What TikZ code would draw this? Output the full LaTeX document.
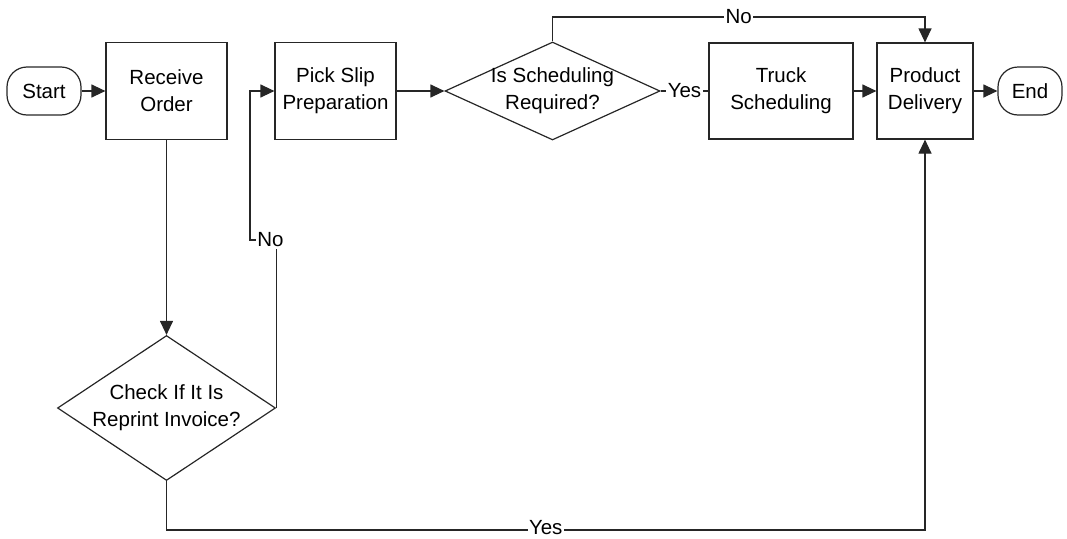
\documentclass[tikz,border=0pt]{standalone}
\usepackage{fontspec}
\setmainfont{Liberation Sans}
\usetikzlibrary{shapes,arrows.meta,calc}

\begin{document}
\begin{tikzpicture}[x=1pt, y=-1pt]

        % Looks shared by the boxes, decisions and lines
        \tikzset{
            every node/.style={font=\fontsize{20.5}{27}\selectfont, align=center, text=black},
            term/.style={draw=black!85, line width=1.2pt, rounded corners=20pt,
                minimum width=74pt, minimum height=48pt, inner sep=0pt},
            proc/.style={draw=black!85, line width=1.2pt, minimum height=97pt, inner sep=0pt},
            dec/.style={diamond, draw=black!85, line width=1.2pt, inner sep=0pt},
            flow/.style={draw=black!85, line width=1.2pt, -{Triangle[length=14pt,width=13pt]}},
            link/.style={draw=black!85, line width=1.2pt},
            lbl/.style={fill=white, inner sep=1.5pt},
        }

        % Fixes the page to the size of the reference
        \useasboundingbox (0,0) rectangle (1067,538);

        % Top row of the chart
        \node[term] (start) at (44,91) {Start};
        \node[proc, minimum width=121pt] (receive) at (166.5,91) {Receive\\Order};
        \node[proc, minimum width=121pt] (pick) at (335.5,91) {Pick Slip\\Preparation};
        \node[dec, minimum width=215pt, minimum height=98pt] (sched) at (552.5,91) {};
        \node (schedtxt) at (sched.center) {Is Scheduling\\Required?};
        \node[proc, minimum width=144pt, minimum height=96pt] (truck) at (781,91) {Truck\\Scheduling};
        \node[proc, minimum width=96pt, minimum height=96pt] (delivery) at (925,91) {Product\\Delivery};
        \node[term, minimum width=64pt] (end) at (1030,91) {End};

        % Decision below the order box
        \node[dec, minimum width=218pt, minimum height=145pt] (check) at (166.5,408) {};
        \node (checktxt) at (check.center) {Check If It Is\\Reprint Invoice?};

        % Bends of the long connectors
        \coordinate (nobend) at (250,240);
        \coordinate (toprun) at (552.5,17);
        \coordinate (botrun) at (166.5,530);

        \draw[flow] (start.east) -- (receive.west);
        \draw[flow] (receive.south) -- (check.north);
        \draw[flow] (check.east) |- node[lbl, pos=0.61] {No} (nobend)
            -- (nobend |- pick.west) -- (pick.west);
        \draw[flow] (pick.east) -- (sched.west);
        \draw[link] (sched.east) -- node[lbl] {Yes} (truck.west);
        \draw[flow] (sched.north) -- (toprun) -- node[lbl] {No} (toprun -| delivery.north)
            -- (delivery.north);
        \draw[flow] (truck.east) -- (delivery.west);
        \draw[flow] (delivery.east) -- (end.west);
        \draw[flow] (check.south) -- (botrun) -- node[lbl, inner ysep=0.5pt, yshift=2.5pt] {Yes}
            (botrun -| delivery.south) -- (delivery.south);
\end{tikzpicture}
\end{document}
